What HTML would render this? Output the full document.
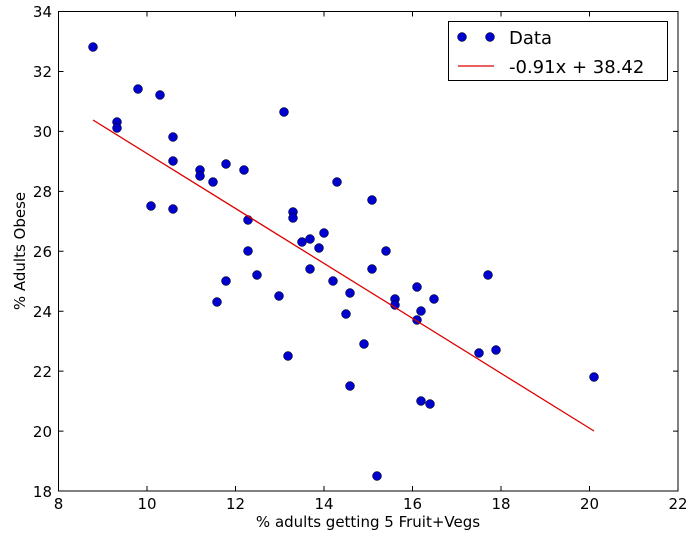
<!DOCTYPE html><html><head><style>body{margin:0;background:#fff}svg{display:block}text{font-family:"DejaVu Sans","Liberation Sans",sans-serif}</style></head><body>
<svg width="694" height="539" viewBox="0 0 694 539">
<g stroke="#000" stroke-width="1">
<g id="t"></g>
</g>
<g fill="#0000cc" stroke="#000" stroke-width="0.5">
<circle cx="93" cy="47" r="4.5"/><circle cx="117" cy="122" r="4.5"/><circle cx="117" cy="128" r="4.5"/><circle cx="138" cy="89" r="4.5"/><circle cx="160" cy="95" r="4.5"/><circle cx="151" cy="206" r="4.5"/><circle cx="173" cy="137" r="4.5"/><circle cx="173" cy="161" r="4.5"/><circle cx="173" cy="209" r="4.5"/><circle cx="200" cy="170" r="4.5"/><circle cx="200" cy="176" r="4.5"/><circle cx="213" cy="182" r="4.5"/><circle cx="217" cy="302" r="4.5"/><circle cx="226" cy="164" r="4.5"/><circle cx="226" cy="281" r="4.5"/><circle cx="244" cy="170" r="4.5"/><circle cx="248" cy="220" r="4.5"/><circle cx="248" cy="251" r="4.5"/><circle cx="257" cy="275" r="4.5"/><circle cx="279" cy="296" r="4.5"/><circle cx="284" cy="112" r="4.5"/><circle cx="288" cy="356" r="4.5"/><circle cx="293" cy="212" r="4.5"/><circle cx="293" cy="218" r="4.5"/><circle cx="302" cy="242" r="4.5"/><circle cx="310" cy="239" r="4.5"/><circle cx="310" cy="269" r="4.5"/><circle cx="319" cy="248" r="4.5"/><circle cx="324" cy="233" r="4.5"/><circle cx="333" cy="281" r="4.5"/><circle cx="337" cy="182" r="4.5"/><circle cx="346" cy="314" r="4.5"/><circle cx="350" cy="293" r="4.5"/><circle cx="350" cy="386" r="4.5"/><circle cx="364" cy="344" r="4.5"/><circle cx="372" cy="200" r="4.5"/><circle cx="372" cy="269" r="4.5"/><circle cx="377" cy="476" r="4.5"/><circle cx="386" cy="251" r="4.5"/><circle cx="395" cy="299" r="4.5"/><circle cx="395" cy="305" r="4.5"/><circle cx="417" cy="287" r="4.5"/><circle cx="417" cy="320" r="4.5"/><circle cx="421" cy="311" r="4.5"/><circle cx="421" cy="401" r="4.5"/><circle cx="430" cy="404" r="4.5"/><circle cx="434" cy="299" r="4.5"/><circle cx="479" cy="353" r="4.5"/><circle cx="488" cy="275" r="4.5"/><circle cx="496" cy="350" r="4.5"/><circle cx="594" cy="377" r="4.5"/>
</g>
<line x1="93" y1="120" x2="594" y2="431" stroke="#dd0000" stroke-width="1.3"/>
<rect x="58.5" y="11.5" width="619.5" height="479.5" fill="none" stroke="#000"/>
<g stroke="#000">
<path d="M147,491v-5M235.5,491v-5M324,491v-5M412.5,491v-5M501,491v-5M589.5,491v-5M147,11.5v5M235.5,11.5v5M324,11.5v5M412.5,11.5v5M501,11.5v5M589.5,11.5v5"/>
<path d="M58.5,71.5h5M58.5,131.4h5M58.5,191.4h5M58.5,251.3h5M58.5,311.2h5M58.5,371.1h5M58.5,431.1h5M678,71.5h-5M678,131.4h-5M678,191.4h-5M678,251.3h-5M678,311.2h-5M678,371.1h-5M678,431.1h-5"/>
</g>
<g font-size="15" text-anchor="middle" fill="#000">
<text x="58.5" y="509">8</text><text x="147" y="509">10</text><text x="235.5" y="509">12</text><text x="324" y="509">14</text><text x="412.5" y="509">16</text><text x="501" y="509">18</text><text x="589.5" y="509">20</text><text x="678" y="509">22</text>
</g>
<g font-size="15" text-anchor="end" fill="#000">
<text x="52" y="17">34</text><text x="52" y="77">32</text><text x="52" y="137">30</text><text x="52" y="197">28</text><text x="52" y="257">26</text><text x="52" y="317">24</text><text x="52" y="377">22</text><text x="52" y="437">20</text><text x="52" y="497">18</text>
</g>
<text x="368" y="527" font-size="15" text-anchor="middle">% adults getting 5 Fruit+Vegs</text>
<text transform="translate(25,251) rotate(-90)" font-size="15" text-anchor="middle">% Adults Obese</text>
<rect x="448.5" y="21.5" width="219" height="59" fill="#fff" stroke="#000"/>
<circle cx="462" cy="37" r="4.5" fill="#0000cc" stroke="#000" stroke-width="0.5"/><circle cx="490" cy="37" r="4.5" fill="#0000cc" stroke="#000" stroke-width="0.5"/>
<text x="509" y="44" font-size="18">Data</text>
<line x1="458" y1="66" x2="494" y2="66" stroke="#dd0000" stroke-width="1.3"/>
<text x="509" y="73" font-size="18">-0.91x + 38.42</text>
</svg></body></html>
